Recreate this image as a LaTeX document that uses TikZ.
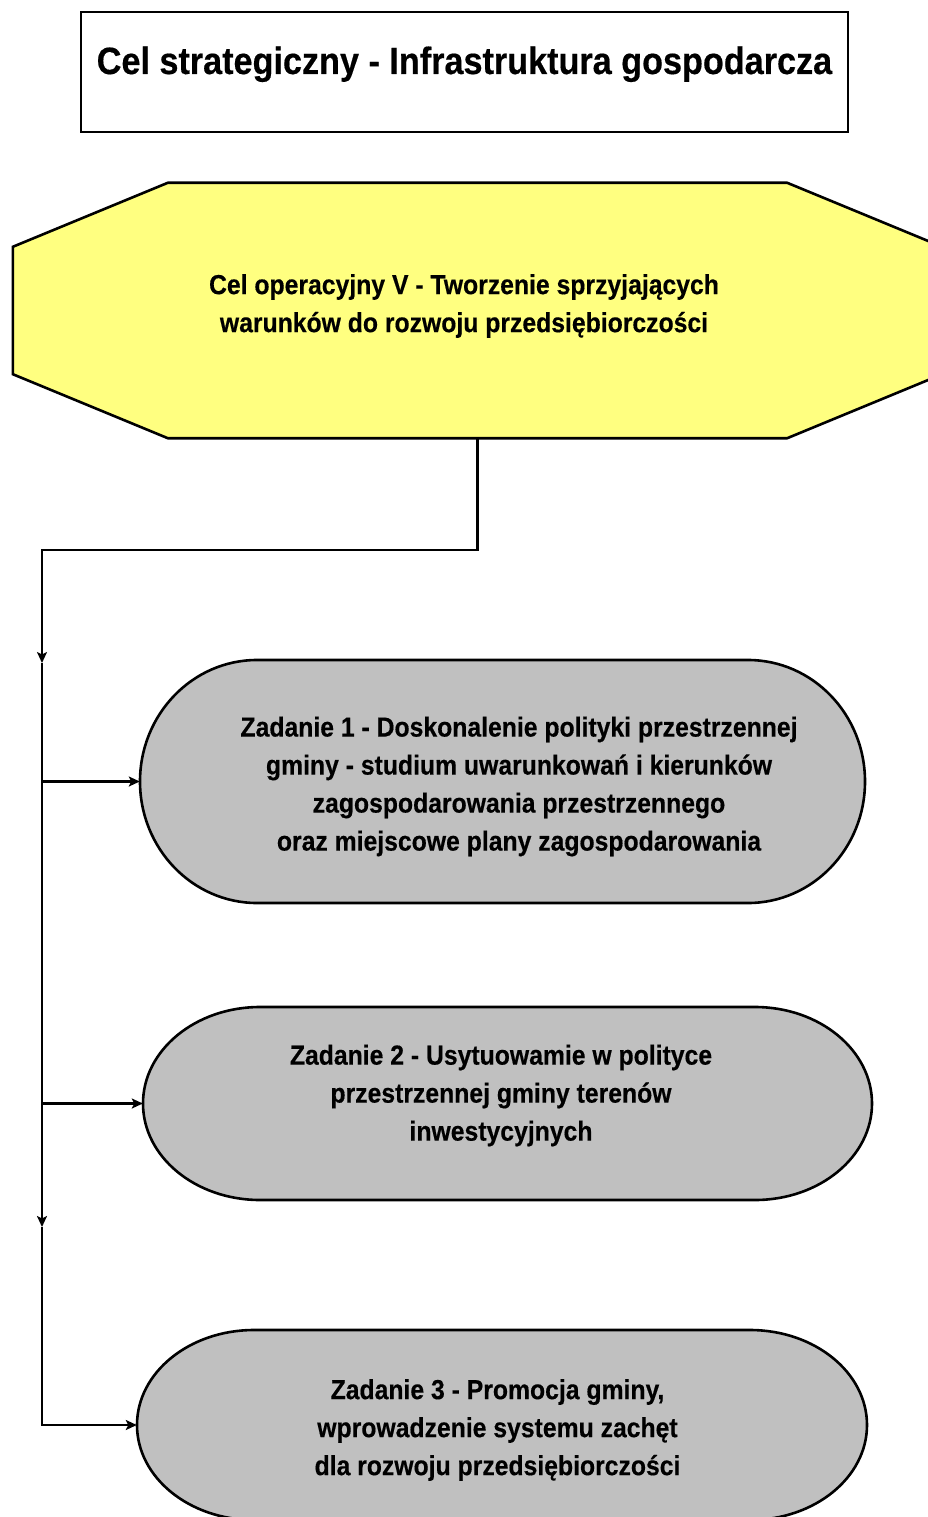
\documentclass[tikz,border=0pt]{standalone}
\usepackage{fontspec}
\setmainfont{Liberation Sans}[FakeStretch=0.9,BoldFeatures={FakeBold=0.4}]
\usepackage{tikz}
\usetikzlibrary{shapes,arrows.meta,positioning}
\definecolor{celyellow}{RGB}{255,255,128}
\definecolor{zadgray}{RGB}{192,192,192}

\begin{document}
\begin{tikzpicture}[x=1pt,y=1pt,
    >={Stealth[length=11pt,width=10pt,inset=2.5pt]},
    conn/.style={line width=2.2pt},
    strategic/.style={draw,line width=1.2pt,minimum width=767pt,minimum height=120pt,
      font=\fontsize{38}{46}\selectfont\bfseries,text height=28pt,text depth=24pt},
    opbox/.style={minimum width=929pt,minimum height=255pt,inner sep=0pt},
    octagon/.style={draw,line width=2.6pt,fill=celyellow,line join=miter},
    optext/.style={align=center,inner sep=0pt,font=\fontsize{27.5}{38}\selectfont\bfseries},
    zadshape/.style={draw,line width=2.6pt,fill=zadgray},
    zadtext/.style={align=center,inner sep=0pt,font=\fontsize{27.5}{38}\selectfont\bfseries}
  ]
  \path[fill=white] (0,0) rectangle (927,-1517);
  \useasboundingbox (0,0) rectangle (927,-1517);

  \node[strategic] (strat) at (464.5,-72) {Cel strategiczny - Infrastruktura gospodarcza};

  \node[opbox] (oper) at (477.5,-310.5) {};
  \draw[octagon] ([xshift=155pt]oper.north west) -- ([xshift=-155pt]oper.north east)
    -- ([yshift=-64pt]oper.north east) -- ([yshift=64pt]oper.south east)
    -- ([xshift=-155pt]oper.south east) -- ([xshift=155pt]oper.south west)
    -- ([yshift=64pt]oper.south west) -- ([yshift=-64pt]oper.north west) -- cycle;
  \node[optext] (opertext) at (464,-306)
    {Cel operacyjny V - Tworzenie sprzyjających\\warunków do rozwoju przedsiębiorczości};

  \foreach \nm/\cx/\cy/\w/\h/\dx/\dy/\txt in {
      z1/502.5/-781.5/725/243/16.5/-5/{Zadanie 1 - Doskonalenie polityki przestrzennej\\gminy - studium uwarunkowań i kierunków\\zagospodarowania przestrzennego\\oraz miejscowe plany zagospodarowania},
      z2/507.5/-1103.5/729/193/-6.5/8/{Zadanie 2 - Usytuowamie w polityce\\przestrzennej gminy terenów\\inwestycyjnych},
      z3/502/-1425/730/190/-4.5/-5/{Zadanie 3 - Promocja gminy,\\wprowadzenie systemu zachęt\\dla rozwoju przedsiębiorczości}}
  {
    \draw[zadshape] (\cx-\w/2+117,\cy+\h/2) -- (\cx+\w/2-117,\cy+\h/2)
      arc[start angle=90,end angle=-90,x radius=117pt,y radius={\h/2*1pt}]
      -- (\cx-\w/2+117,\cy-\h/2)
      arc[start angle=270,end angle=90,x radius=117pt,y radius={\h/2*1pt}] -- cycle;
    \node[zadtext,minimum width={(\w+2*\dx)*1pt}] (\nm) at (\cx+\dx,\cy+\dy) {\txt};
  }

  \coordinate (bend) at (42,-550);
  \coordinate (a1) at (42,-663);
  \coordinate (j1) at (42,-781.5);
  \coordinate (j2) at (42,-1103.5);
  \coordinate (a2) at (42,-1227);
  \coordinate (j3) at (42,-1425);

  \draw[conn,->] (oper.south) |- (bend) -- (a1);
  \draw[conn] (a1) -- (j1) -- (j2);
  \draw[conn,->] (j2) -- (a2);
  \draw[conn,->] (a2) -- (j3) -- (j3 -| z3.west);
  \foreach \j/\z in {j1/z1,j2/z2}
    \draw[conn,->] (\j) -- (\j -| \z.west);
\end{tikzpicture}
\end{document}
